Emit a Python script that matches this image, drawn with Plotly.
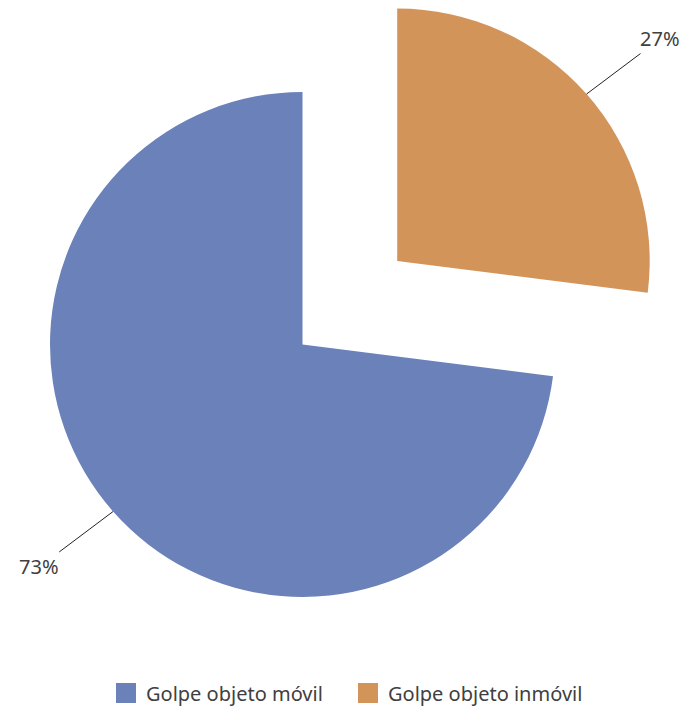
import math
import plotly.graph_objects as go

categories = ["Golpe objeto móvil", "Golpe objeto inmóvil"]
shares = [73, 27]
colors = ["#6A82B9", "#D3945A"]

W, H = 689, 707
OFF = 8                      # page body margin: page px -> figure px
cx, cy, r = 302.5 - OFF, 344.5 - OFF, 252.5   # pie centre / radius in figure px
pull = 0.5                   # orange slice pulled out by half a radius
font = "Noto Sans, Roboto, sans-serif"

total = sum(shares)
# orange slice is drawn first from 12 o'clock clockwise, blue follows
orange_sweep = 360 * shares[1] / total
orange_mid = orange_sweep / 2
blue_mid = orange_sweep + (360 - orange_sweep) / 2


def clamp(v):
    return min(1.0, max(0.0, v))


def px_dom(x0, y0):
    return dict(x=[clamp((x0 - r) / W), clamp((x0 + r) / W)],
                y=[clamp(1 - (y0 + r) / H), clamp(1 - (y0 - r) / H)])


def polar(x0, y0, ang, rad):
    a = math.radians(ang)
    return x0 + rad * math.sin(a), y0 - rad * math.cos(a)


ox, oy = polar(cx, cy, orange_mid, r * pull)

order_labels = [categories[1], categories[0]]
order_vals = [shares[1], shares[0]]

fig = go.Figure()
fig.add_trace(go.Pie(labels=order_labels, values=order_vals, sort=False,
                     direction="clockwise", rotation=0, textinfo="none",
                     hoverinfo="label+percent", showlegend=False,
                     marker=dict(colors=["rgba(0,0,0,0)", colors[0]]),
                     domain=px_dom(cx, cy)))
fig.add_trace(go.Pie(labels=order_labels, values=order_vals, sort=False,
                     direction="clockwise", rotation=0, textinfo="none",
                     hoverinfo="label+percent", showlegend=False,
                     marker=dict(colors=[colors[1], "rgba(0,0,0,0)"]),
                     domain=px_dom(ox, oy)))

# legend entries
for name, c in zip(categories, colors):
    fig.add_trace(go.Scatter(x=[None], y=[None], mode="markers", name=name,
                             marker=dict(symbol="square", size=16, color=c,
                                         line=dict(width=4, color=c))))

# outside percentage labels with leader lines
for (x0, y0), ang, val in [((ox, oy), orange_mid, shares[1]),
                           ((cx, cy), blue_mid, shares[0])]:
    hx, hy = polar(x0, y0, ang, r)
    tx, ty = polar(x0, y0, ang + 1.2, r * 1.365)
    fig.add_annotation(x=hx / W, y=1 - hy / H, xref="paper", yref="paper",
                       ax=tx - hx, ay=ty - hy, text=f"{val}%",
                       showarrow=True, arrowhead=0, arrowwidth=1,
                       arrowcolor="#222", standoff=0,
                       font=dict(family=font, size=20, color="#404040"))

fig.update_layout(
    width=W, height=H,
    margin=dict(l=0, r=0, t=0, b=0),
    paper_bgcolor="white", plot_bgcolor="white",
    xaxis=dict(visible=False), yaxis=dict(visible=False),
    font=dict(family=font, color="#404040"),
    legend=dict(orientation="h", x=(117 - OFF - 11) / W, xanchor="left",
                y=1 - (693 - OFF) / H, yanchor="middle",
                font=dict(size=20), itemwidth=30, entrywidth=197,
                traceorder="normal"),
)

fig.write_html("out.html")
